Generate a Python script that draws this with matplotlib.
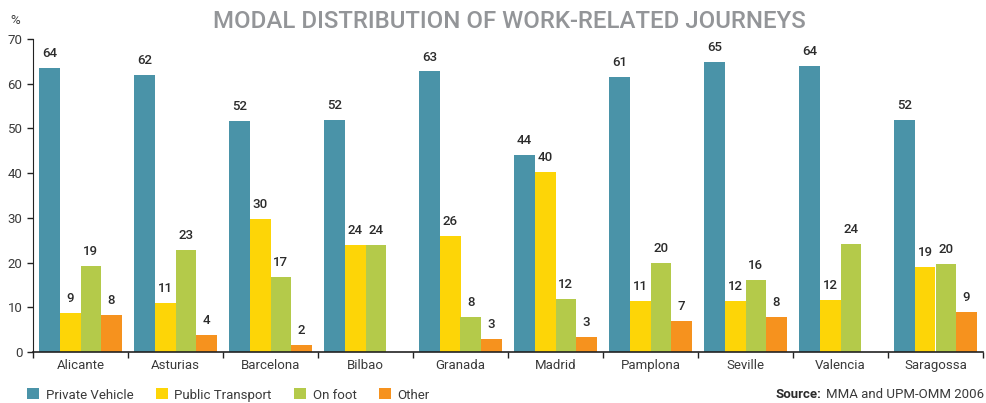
import numpy as np
import matplotlib.pyplot as plt

cities = ["Alicante", "Asturias", "Barcelona", "Bilbao", "Granada",
          "Madrid", "Pamplona", "Seville", "Valencia", "Saragossa"]
series = ["Private Vehicle", "Public Transport", "On foot", "Other"]

private_vehicle = [63.5, 62.0, 51.7, 51.9, 62.8, 44.1, 61.5, 64.9, 64.0, 51.9]
public_transport = [8.7, 11.0, 29.8, 24.0, 26.0, 40.3, 11.4, 11.5, 11.7, 19.1]
on_foot = [19.3, 22.9, 16.8, 24.0, 7.9, 11.9, 19.9, 16.2, 24.2, 19.7]
other = [8.3, 3.9, 1.6, 0.0, 3.0, 3.4, 7.0, 7.9, 0.0, 9.0]

private_labels = [64, 62, 52, 52, 63, 44, 61, 65, 64, 52]
public_labels = [9, 11, 30, 24, 26, 40, 11, 12, 12, 19]
foot_labels = [19, 23, 17, 24, 8, 12, 20, 16, 24, 20]
other_labels = [8, 4, 2, None, 3, 3, 7, 8, None, 9]

colors = ["#4a93a8", "#fdd507", "#b4ca4a", "#f6921e"]
FONT = "Roboto"
TEXT = "#3a3a3a"

plt.rcParams["font.family"] = [FONT, "DejaVu Sans"]

fig = plt.figure(figsize=(9.86, 4.03), dpi=100)
ax = fig.add_axes([33 / 986, 51 / 403, 950 / 986, 313 / 403])

x = np.arange(len(cities))
w = 0.216
all_vals = [private_vehicle, public_transport, on_foot, other]
all_labels = [private_labels, public_labels, foot_labels, other_labels]

for k, (vals, labs) in enumerate(zip(all_vals, all_labels)):
    pos = x + (k - 1.5) * w
    ax.bar(pos, vals, width=w, color=colors[k], label=series[k], linewidth=0)
    for xp, v, lab in zip(pos, vals, labs):
        if lab is None:
            continue
        ax.annotate(str(lab), (xp, v), xytext=(0, 5.5), textcoords="offset points",
                    ha="center", va="bottom", fontsize=9.5, color="#2b2b2b",
                    fontweight="medium")

ax.set_xlim(-0.5, len(cities) - 0.5)
ax.set_ylim(0, 70)
ax.set_yticks(range(0, 71, 10))
ax.set_xticks(x)
ax.set_xticklabels(cities)
ax.set_xticks(np.arange(-0.5, len(cities), 1.0), minor=True)
ax.tick_params(axis="x", which="major", length=0, pad=5, labelsize=9.5, labelcolor=TEXT)
ax.tick_params(axis="x", which="minor", length=4, width=1, direction="out", color="#222222")
ax.tick_params(axis="y", length=4, width=1, direction="out", labelsize=9.5,
               labelcolor=TEXT, color="#222222")

for s in ["top", "right"]:
    ax.spines[s].set_visible(False)
ax.spines["left"].set_color("#222222")
ax.spines["bottom"].set_color("#222222")
ax.spines["bottom"].set_linewidth(1.2)

fig.text(15 / 986, 1 - 21 / 403, "%", ha="center", va="center", fontsize=9.5, color=TEXT)
fig.text(509 / 986, 1 - 21 / 403, "MODAL DISTRIBUTION OF WORK-RELATED JOURNEYS",
         ha="center", va="center", fontsize=17.3, color="#939598", fontweight="medium")

leg = fig.legend(loc="center left", bbox_to_anchor=(22 / 986, 1 - 395 / 403), ncol=4,
                 frameon=False, fontsize=9.5, handlelength=0.9, handleheight=0.9,
                 handletextpad=0.5, columnspacing=1.7, borderaxespad=0.0)
for t in leg.get_texts():
    t.set_color(TEXT)

src = fig.text(984 / 986, 1 - 395 / 403, "MMA and UPM-OMM 2006", ha="right", va="center",
               fontsize=9.5, color=TEXT)
fig.canvas.draw()
bb = src.get_window_extent(fig.canvas.get_renderer())
fig.text((bb.x0 - 4) / 986, 1 - 395 / 403, "Source:", ha="right", va="center",
         fontsize=9.5, color="#2b2b2b", fontweight="bold")

fig.savefig("out.png", dpi=100)
